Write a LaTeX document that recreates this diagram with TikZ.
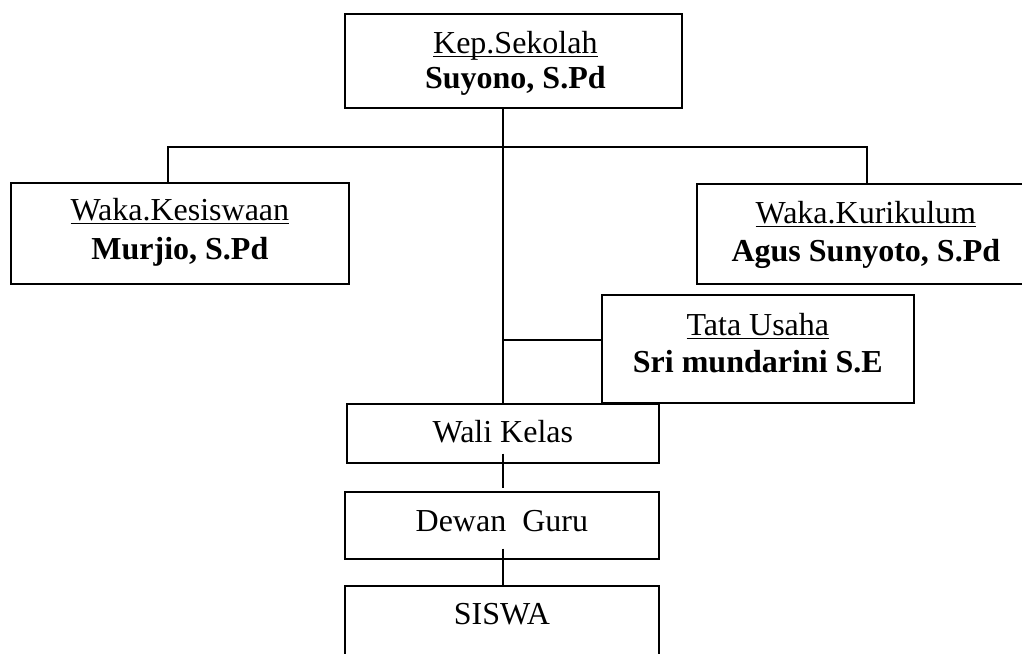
\documentclass[tikz,border=0pt]{standalone}
\usepackage{fontspec}
\setmainfont{Liberation Serif}
\usetikzlibrary{calc}
\newcommand{\myul}[1]{\setbox0\hbox{#1}\rlap{\rule[-4.2pt]{\wd0}{1.6pt}}\box0}
\tikzset{
  box/.style={draw, line width=1.7pt, inner sep=0pt, anchor=north west},
  lbl/.style={anchor=base, inner sep=0pt, font=\fontsize{32}{38}\selectfont},
  nm/.style={lbl, font=\fontsize{32}{38}\selectfont\bfseries},
  conn/.style={line width=1.7pt}
}
\begin{document}
\begin{tikzpicture}[x=1pt,y=-1pt]
\useasboundingbox (0,0) rectangle (1022,653);
\clip (0,0) rectangle (1022,653);
% boxes
\node[box, minimum width=337pt, minimum height=94pt] (kep) at (344,13) {};
\node[box, minimum width=338pt, minimum height=101pt] (kes) at (10,182) {};
\node[box, minimum width=338pt, minimum height=100pt] (kur) at (696,183) {};
\node[box, minimum width=312pt, minimum height=108pt] (tata) at (601,294) {};
\node[box, minimum width=312pt, minimum height=59pt] (wali) at (346,403) {};
\node[box, minimum width=314pt, minimum height=67pt] (dewan) at (344,491) {};
\node[box, minimum width=314pt, minimum height=95pt] (siswa) at (344,585) {};
% texts
\node[lbl] (kept) at ($(kep.north)+(2,40)$) {\myul{Kep.Sekolah}};
\node[nm] (kepn) at ($(kep.north)+(2,75)$) {Suyono, S.Pd};
\node[lbl] (kest) at ($(kes.north)+(0,38)$) {\myul{Waka.Kesiswaan}};
\node[nm] (kesn) at ($(kes.north)+(0,77)$) {Murjio, S.Pd};
\node[lbl] (kurt) at ($(kur.north)+(0,40)$) {\myul{Waka.Kurikulum}};
\node[nm] (kurn) at ($(kur.north)+(0,78)$) {Agus Sunyoto, S.Pd};
\node[lbl] (tatat) at ($(tata.north)+(0,41)$) {\myul{Tata Usaha}};
\node[nm] (tatan) at ($(tata.north)+(0,78)$) {Sri mundarini S.E};
\node[lbl] (walit) at ($(wali.north)+(0,39)$) {Wali Kelas};
\node[lbl] (dewant) at ($(dewan.north)+(0,40)$) {Dewan\ \ Guru};
\node[lbl] (siswat) at ($(siswa.north)+(0,39)$) {SISWA};
% connectors
\coordinate (bl) at (168,147);
\coordinate (br) at (867,147);
\coordinate (tj) at (503,340);
\draw[conn] (tj |- kep.south) -- (tj |- wali.north);
\draw[conn] (kes.north -| bl) -- (bl) -- (br) -- (kur.north -| br);
\draw[conn] (tj) -- (tj -| tata.west);
\draw[conn] ($(wali.south -| tj)+(0,-10)$) -- ($(dewan.north -| tj)+(0,-3)$);
\draw[conn] ($(dewan.south -| tj)+(0,-11)$) -- (siswa.north -| tj);
\end{tikzpicture}
\end{document}
